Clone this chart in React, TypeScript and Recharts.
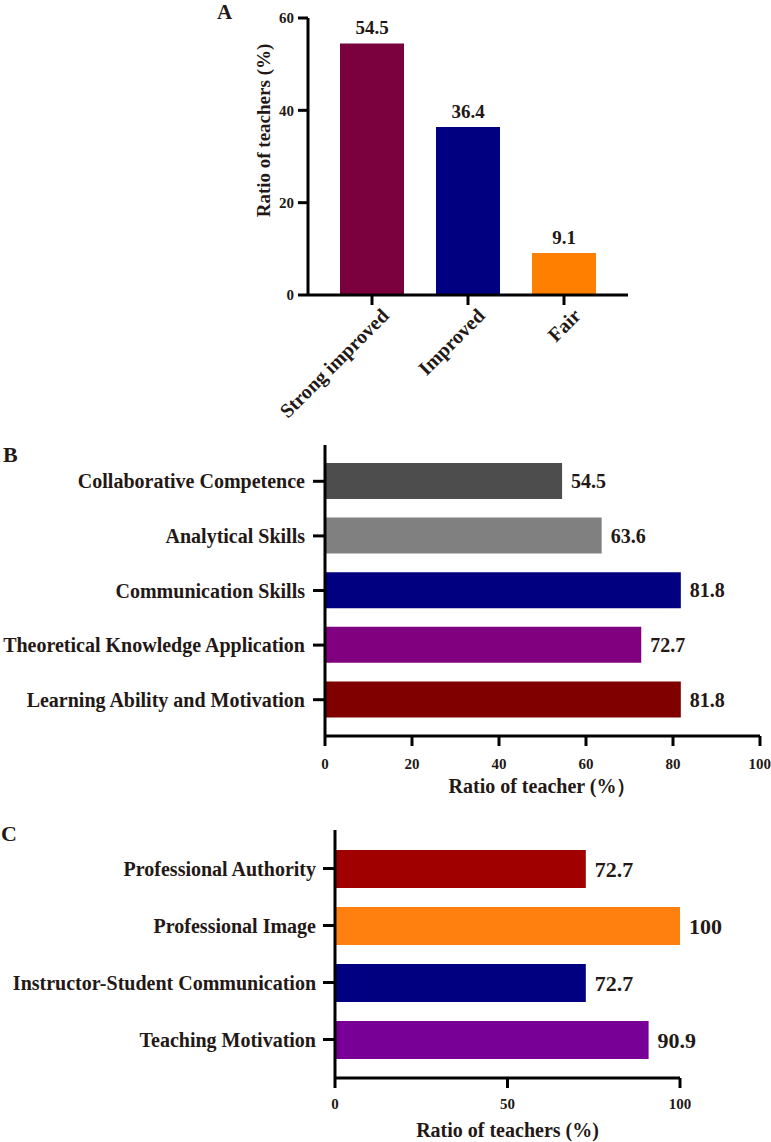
import { BarChart, Bar, XAxis, YAxis, Cell, LabelList } from "recharts";

const FONT = '"Liberation Serif", "Times New Roman", serif';
const INK = "#231815";

// panel A
const levels = ["Strong improved", "Improved", "Fair"];
const levelRatios = [54.5, 36.4, 9.1];
const levelColors = ["#7b003e", "#000080", "#ff8000"];
const ticksA = [0, 20, 40, 60];

// panel B
const abilities = [
  "Collaborative Competence",
  "Analytical Skills",
  "Communication Skills",
  "Theoretical Knowledge Application",
  "Learning Ability and Motivation",
];
const abilityRatios = [54.5, 63.6, 81.8, 72.7, 81.8];
const abilityColors = ["#4d4d4d", "#808080", "#000080", "#800080", "#800000"];
const ticksB = [0, 20, 40, 60, 80, 100];

// panel C
const aspects = [
  "Professional Authority",
  "Professional Image",
  "Instructor-Student Communication",
  "Teaching Motivation",
];
const aspectRatios = [72.7, 100, 72.7, 90.9];
const aspectColors = ["#a00000", "#ff800f", "#000080", "#780096"];
const ticksC = [0, 50, 100];

const dataA = levels.map((name, i) => ({ name, ratio: levelRatios[i] }));
const dataB = abilities.map((name, i) => ({ name, ratio: abilityRatios[i] }));
const dataC = aspects.map((name, i) => ({ name, ratio: aspectRatios[i] }));

const axisLine = { stroke: "#000", strokeWidth: 3 };
const tickLine = { stroke: "#000", strokeWidth: 3 };
const txt = (size: number) => ({
  fontSize: size,
  fontWeight: "bold",
  fill: INK,
  fontFamily: FONT,
});

// x labels of panel A are slanted 45 degrees, ending just right of the tick
const SlantTick = ({ x, y, payload }: any) => {
  const ax = x + 18;
  const ay = y + 12;
  return (
    <text
      x={ax}
      y={ay}
      transform={`rotate(-45, ${ax}, ${ay})`}
      textAnchor="end"
      {...txt(20)}
    >
      {payload.value}
    </text>
  );
};

const PanelA = () => (
  <BarChart
    width={771}
    height={430}
    data={dataA}
    margin={{ top: 18, right: 143, bottom: 15, left: 218 }}
  >
    <XAxis
      dataKey="name"
      height={120}
      padding={{ left: 16, right: 16 }}
      axisLine={axisLine}
      tickLine={tickLine}
      tickSize={10}
      tickMargin={0}
      tick={<SlantTick />}
      interval={0}
    />
    <YAxis
      width={90}
      domain={[0, 60]}
      ticks={ticksA}
      axisLine={axisLine}
      tickLine={tickLine}
      tickSize={10}
      tickMargin={4}
      tick={txt(15)}
      label={{
        value: "Ratio of teachers (%)",
        angle: -90,
        position: "center",
        dy: -26,
        ...txt(19),
      }}
    />
    <Bar dataKey="ratio" barSize={64} isAnimationActive={false}>
      {dataA.map((d, i) => (
        <Cell key={d.name} fill={levelColors[i]} />
      ))}
      <LabelList dataKey="ratio" position="top" offset={9} {...txt(19)} />
    </Bar>
  </BarChart>
);

const PanelB = () => (
  <BarChart
    layout="vertical"
    width={771}
    height={380}
    data={dataB}
    margin={{ top: 25, right: 11, bottom: 7, left: 0 }}
  >
    <XAxis
      type="number"
      domain={[0, 100]}
      ticks={ticksB}
      height={57}
      axisLine={axisLine}
      tickLine={tickLine}
      tickSize={10}
      tickMargin={12}
      tick={txt(15)}
      label={{
        value: "Ratio of teacher (%）",
        position: "insideBottom",
        offset: 0,
        ...txt(20),
      }}
    />
    <YAxis
      type="category"
      dataKey="name"
      width={325}
      padding={{ top: 9, bottom: 9 }}
      axisLine={axisLine}
      tickLine={tickLine}
      tickSize={12}
      tickMargin={8}
      tick={txt(20)}
      interval={0}
    />
    <Bar dataKey="ratio" barSize={36} isAnimationActive={false}>
      {dataB.map((d, i) => (
        <Cell key={d.name} fill={abilityColors[i]} />
      ))}
      <LabelList dataKey="ratio" position="right" offset={9} {...txt(20)} />
    </Bar>
  </BarChart>
);

const PanelC = () => (
  <BarChart
    layout="vertical"
    width={771}
    height={342}
    data={dataC}
    margin={{ top: 30, right: 91, bottom: 5, left: 0 }}
  >
    <XAxis
      type="number"
      domain={[0, 100]}
      ticks={ticksC}
      height={59}
      axisLine={axisLine}
      tickLine={tickLine}
      tickSize={10}
      tickMargin={10}
      tick={txt(15)}
      label={{
        value: "Ratio of teachers (%)",
        position: "insideBottom",
        offset: 0,
        ...txt(20),
      }}
    />
    <YAxis
      type="category"
      dataKey="name"
      width={335}
      padding={{ top: 10, bottom: 10 }}
      axisLine={axisLine}
      tickLine={tickLine}
      tickSize={12}
      tickMargin={7}
      tick={txt(20)}
      interval={0}
    />
    <Bar dataKey="ratio" barSize={38} isAnimationActive={false}>
      {dataC.map((d, i) => (
        <Cell key={d.name} fill={aspectColors[i]} />
      ))}
      <LabelList dataKey="ratio" position="right" offset={9} {...txt(22)} />
    </Bar>
  </BarChart>
);

export default function App() {
  return (
    <div
      style={{
        position: "absolute",
        left: 0,
        top: 0,
        width: 771,
        height: 1142,
        background: "#fff",
      }}
    >
      <div style={{ position: "absolute", left: 0, top: 0 }}>
        <PanelA />
      </div>
      <div style={{ position: "absolute", left: 0, top: 420 }}>
        <PanelB />
      </div>
      <div style={{ position: "absolute", left: 0, top: 800 }}>
        <PanelC />
      </div>
      <svg
        width={771}
        height={1142}
        style={{ position: "absolute", left: 0, top: 0, pointerEvents: "none" }}
      >
        <text x={217} y={19} {...txt(21)}>A</text>
        <text x={3} y={462} {...txt(22)}>B</text>
        <text x={1} y={841} {...txt(22)}>C</text>
      </svg>
    </div>
  );
}
